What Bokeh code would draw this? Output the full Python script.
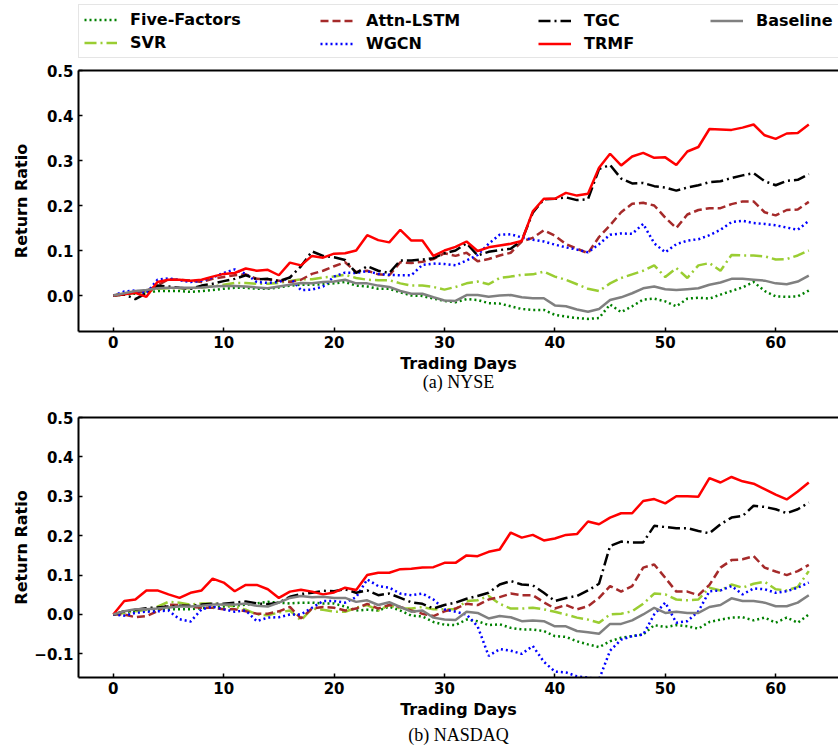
from bokeh.plotting import figure
from bokeh.models import Legend, LegendItem, LinearAxis, FixedTicker, Title, Range1d
from bokeh.layouts import column
from bokeh.embed import file_html
from bokeh.resources import INLINE

days = list(range(64))
x_ticks = [0, 10, 20, 30, 40, 50, 60]
names = ["Five-Factors", "SVR", "Attn-LSTM", "WGCN", "TGC", "TRMF", "Baseline"]

nyse_five = [0, 0.002, 0.004, 0.006, 0.01, 0.01, 0.01, 0.008, 0.01, 0.012,
             0.015, 0.017, 0.017, 0.015, 0.015, 0.018, 0.022, 0.024, 0.024, 0.025,
             0.027, 0.03, 0.022, 0.02, 0.015, 0.015, 0.007, 0.0, -0.001, -0.007,
             -0.012, -0.015, -0.008, -0.01, -0.017, -0.018, -0.024, -0.03, -0.032, -0.032,
             -0.043, -0.047, -0.05, -0.052, -0.05, -0.02, -0.037, -0.024, -0.009, -0.007,
             -0.013, -0.024, -0.007, -0.005, -0.007, 0.002, 0.01, 0.018, 0.03, 0.01,
             -0.002, -0.003, -0.002, 0.011]
nyse_svr = [0, 0.004, 0.006, 0.008, 0.015, 0.016, 0.016, 0.016, 0.018, 0.02,
            0.024, 0.028, 0.028, 0.026, 0.026, 0.028, 0.032, 0.036, 0.036, 0.04,
            0.042, 0.046, 0.039, 0.035, 0.034, 0.034, 0.027, 0.022, 0.022, 0.019,
            0.013, 0.019, 0.027, 0.031, 0.025, 0.039, 0.042, 0.046, 0.047, 0.053,
            0.042, 0.035, 0.025, 0.015, 0.01, 0.027, 0.039, 0.047, 0.055, 0.067,
            0.041, 0.061, 0.039, 0.067, 0.072, 0.055, 0.09, 0.089, 0.089, 0.087,
            0.08, 0.081, 0.089, 0.1]
nyse_attn = [0, 0.004, 0.005, 0.011, 0.022, 0.036, 0.035, 0.033, 0.03, 0.037,
             0.041, 0.045, 0.047, 0.037, 0.036, 0.033, 0.03, 0.035, 0.048, 0.055,
             0.065, 0.074, 0.052, 0.055, 0.047, 0.045, 0.074, 0.072, 0.075, 0.081,
             0.094, 0.088, 0.095, 0.076, 0.081, 0.089, 0.095, 0.12, 0.128, 0.145,
             0.133, 0.114, 0.104, 0.094, 0.13, 0.156, 0.185, 0.204, 0.206, 0.2,
             0.173, 0.15, 0.18, 0.19, 0.194, 0.194, 0.203, 0.209, 0.209, 0.185,
             0.178, 0.19, 0.191, 0.208]
nyse_wgcn = [0, 0.009, 0.011, 0.005, 0.035, 0.038, 0.034, 0.03, 0.033, 0.04,
             0.05, 0.058, 0.048, 0.03, 0.028, 0.03, 0.04, 0.012, 0.013, 0.02,
             0.042, 0.051, 0.05, 0.054, 0.048, 0.046, 0.045, 0.045, 0.068, 0.071,
             0.07, 0.067, 0.078, 0.09, 0.115, 0.135, 0.136, 0.129, 0.124, 0.12,
             0.113, 0.107, 0.102, 0.096, 0.114, 0.135, 0.138, 0.137, 0.159, 0.116,
             0.096, 0.114, 0.122, 0.125, 0.134, 0.146, 0.163, 0.166, 0.161, 0.159,
             0.156, 0.151, 0.146, 0.166]
nyse_tgc = [0, 0.002, -0.008, 0.005, 0.022, 0.02, 0.017, 0.015, 0.022, 0.026,
            0.032, 0.037, 0.045, 0.036, 0.037, 0.032, 0.04, 0.065, 0.098, 0.088,
            0.085, 0.079, 0.05, 0.065, 0.055, 0.05, 0.078, 0.078, 0.08, 0.083,
            0.094, 0.1, 0.116, 0.089, 0.097, 0.101, 0.104, 0.122, 0.184, 0.214,
            0.215, 0.218, 0.212, 0.214, 0.281, 0.29, 0.26, 0.249, 0.25, 0.243,
            0.24, 0.233, 0.24, 0.245, 0.252, 0.254, 0.261, 0.267, 0.272, 0.254,
            0.245, 0.255, 0.257, 0.27]
nyse_trmf = [0, 0.003, 0.006, -0.003, 0.03, 0.035, 0.035, 0.033, 0.035, 0.042,
             0.048, 0.05, 0.06, 0.055, 0.057, 0.045, 0.073, 0.067, 0.088, 0.084,
             0.093, 0.094, 0.1, 0.134, 0.123, 0.118, 0.146, 0.122, 0.122, 0.088,
             0.1, 0.108, 0.12, 0.099, 0.107, 0.111, 0.115, 0.121, 0.187, 0.215,
             0.215, 0.228, 0.222, 0.226, 0.284, 0.315, 0.289, 0.309, 0.317, 0.306,
             0.307, 0.29, 0.32, 0.33, 0.37, 0.369, 0.368, 0.373, 0.38, 0.356,
             0.348, 0.36, 0.361, 0.38]
nyse_base = [0, 0.005, 0.01, 0.012, 0.016, 0.017, 0.017, 0.017, 0.018, 0.02,
             0.021, 0.021, 0.02, 0.018, 0.016, 0.02, 0.024, 0.028, 0.027, 0.03,
             0.031, 0.035, 0.027, 0.027, 0.022, 0.019, 0.01, 0.004, 0.004, -0.004,
             -0.011, -0.012, 0.001, 0.001, -0.003, 0.0, 0.001, -0.004, -0.006, -0.006,
             -0.022, -0.024, -0.031, -0.036, -0.03, -0.01, -0.004, 0.005, 0.016, 0.02,
             0.014, 0.012, 0.014, 0.016, 0.024, 0.029, 0.037, 0.037, 0.035, 0.033,
             0.027, 0.025, 0.031, 0.044]

nasdaq_five = [0, 0.004, 0.008, 0.01, 0.012, 0.013, 0.013, 0.013, 0.016, 0.018,
               0.02, 0.022, 0.025, 0.028, 0.032, 0.03, 0.028, 0.03, 0.03, 0.028,
               0.028, 0.02, 0.01, 0.012, 0.01, 0.02, 0.01, -0.003, -0.005, -0.019,
               -0.026, -0.027, -0.013, -0.017, -0.027, -0.025, -0.034, -0.038, -0.038, -0.042,
               -0.055, -0.057, -0.068, -0.076, -0.083, -0.068, -0.059, -0.055, -0.051, -0.027,
               -0.032, -0.027, -0.03, -0.036, -0.019, -0.013, -0.008, -0.007, -0.015, -0.008,
               -0.021, -0.008, -0.021, 0.0]
nasdaq_svr = [0, 0.004, 0.008, 0.012, 0.02, 0.032, 0.03, 0.025, 0.028, 0.028,
              0.025, 0.02, 0.012, 0.0, -0.002, 0.005, 0.01, -0.015, 0.015, 0.012,
              0.007, 0.007, 0.017, 0.024, 0.01, 0.024, 0.015, 0.015, 0.019, 0.013,
              0.013, 0.013, 0.034, 0.036, 0.047, 0.027, 0.015, 0.015, 0.017, 0.013,
              0.007, 0.0, -0.008, -0.013, -0.021, 0.0, 0.002, 0.008, 0.027, 0.053,
              0.051, 0.038, 0.036, 0.038, 0.068, 0.061, 0.076, 0.068, 0.078, 0.083,
              0.064, 0.061, 0.07, 0.11]
nasdaq_attn = [0, 0, -0.007, -0.004, 0.008, 0.025, 0.024, 0.02, 0.017, 0.017,
               0.013, 0.013, 0.008, 0.002, 0.002, 0.008, 0.019, -0.01, 0.015, 0.019,
               0.017, 0.01, 0.015, 0.027, 0.015, 0.024, 0.019, 0.01, 0.002, -0.004,
               0.008, 0.015, 0.027, 0.024, 0.038, 0.044, 0.053, 0.049, 0.049, 0.031,
               0.015, 0.024, 0.013, 0.021, 0.042, 0.072, 0.058, 0.072, 0.119, 0.127,
               0.093, 0.058, 0.058, 0.049, 0.075, 0.119, 0.138, 0.14, 0.148, 0.119,
               0.109, 0.1, 0.11, 0.126]
nasdaq_wgcn = [0, -0.003, 0.004, 0.007, 0.008, 0.01, -0.012, -0.018, 0.013, 0.02,
               0.013, 0.007, 0.01, -0.017, -0.008, -0.007, 0.0, 0.0, 0.017, 0.034,
               0.034, 0.03, 0.044, 0.089, 0.072, 0.068, 0.053, 0.049, 0.053, 0.038,
               0.013, 0.007, 0.0, -0.03, -0.105, -0.088, -0.092, -0.1, -0.08, -0.12,
               -0.145, -0.147, -0.157, -0.16, -0.165, -0.092, -0.064, -0.055, -0.051, 0.0,
               0.03, -0.021, -0.017, 0.008, 0.059, 0.061, 0.072, 0.051, 0.066, 0.064,
               0.055, 0.059, 0.068, 0.081]
nasdaq_tgc = [0, 0.008, 0.012, 0.016, 0.018, 0.02, 0.022, 0.022, 0.025, 0.027,
              0.027, 0.03, 0.033, 0.028, 0.026, 0.03, 0.045, 0.052, 0.055, 0.06,
              0.059, 0.064, 0.055, 0.061, 0.049, 0.053, 0.042, 0.031, 0.027, 0.015,
              0.024, 0.03, 0.04, 0.047, 0.055, 0.076, 0.085, 0.076, 0.074, 0.055,
              0.034, 0.042, 0.047, 0.061, 0.078, 0.174, 0.185, 0.183, 0.183, 0.225,
              0.222, 0.219, 0.219, 0.212, 0.206, 0.229, 0.246, 0.25, 0.276, 0.273,
              0.267, 0.257, 0.267, 0.284]
nasdaq_trmf = [0, 0.034, 0.038, 0.061, 0.061, 0.051, 0.042, 0.055, 0.061, 0.091,
               0.081, 0.059, 0.075, 0.075, 0.064, 0.042, 0.058, 0.063, 0.058, 0.051,
               0.056, 0.068, 0.062, 0.1, 0.106, 0.106, 0.115, 0.116, 0.119, 0.12,
               0.131, 0.131, 0.15, 0.148, 0.159, 0.165, 0.208, 0.195, 0.202, 0.188,
               0.193, 0.202, 0.204, 0.236, 0.229, 0.246, 0.257, 0.257, 0.288, 0.293,
               0.282, 0.3, 0.3, 0.299, 0.346, 0.335, 0.349, 0.338, 0.332, 0.318,
               0.304, 0.292, 0.312, 0.335]
nasdaq_base = [0, 0.008, 0.013, 0.013, 0.015, 0.018, 0.02, 0.02, 0.022, 0.025,
               0.025, 0.025, 0.028, 0.022, 0.02, 0.03, 0.042, 0.047, 0.044, 0.045,
               0.042, 0.042, 0.032, 0.036, 0.024, 0.031, 0.019, 0.007, 0.01, -0.008,
               -0.013, -0.014, 0.007, 0.004, -0.01, -0.004, -0.007, -0.017, -0.015, -0.017,
               -0.03, -0.03, -0.042, -0.045, -0.049, -0.024, -0.024, -0.015, 0.0, 0.017,
               0.004, 0.007, 0.004, 0.004, 0.019, 0.024, 0.041, 0.034, 0.034, 0.03,
               0.021, 0.021, 0.03, 0.049]

nyse_series = [nyse_five, nyse_svr, nyse_attn, nyse_wgcn, nyse_tgc, nyse_trmf, nyse_base]
nasdaq_series = [nasdaq_five, nasdaq_svr, nasdaq_attn, nasdaq_wgcn, nasdaq_tgc, nasdaq_trmf, nasdaq_base]

nyse_yticks = [0.0, 0.1, 0.2, 0.3, 0.4, 0.5]
nasdaq_yticks = [-0.1, 0.0, 0.1, 0.2, 0.3, 0.4, 0.5]

colors = ["#008000", "#9ACD32", "#A52A2A", "#0000FF", "#000000", "#FF0000", "#808080"]
dashes = ["2 3", "12 4 2 4", "8 4", "2 3", "12 4 2 4", "solid", "solid"]

FONT = "DejaVu Sans"
X_START = -3.15
PX_PER_DAY = 11.04
FRAME_W = 760
LEG_H = 60


def tick_label(t):
    s = "%.1f" % t
    return s.replace("-", "\u2212")


def make_fig(series, y_lo, y_hi, yticks, caption, top, bottom, fh, ylabel_standoff, title_standoff):
    p = figure(frame_width=FRAME_W, frame_height=fh,
               min_border_left=78, min_border_right=0,
               min_border_top=top, min_border_bottom=bottom,
               x_range=Range1d(X_START, X_START + FRAME_W / PX_PER_DAY),
               y_range=Range1d(y_lo, y_hi),
               toolbar_location=None, output_backend="svg")
    p.outline_line_color = None
    p.grid.visible = False
    p.background_fill_color = "white"
    p.border_fill_color = "white"

    renderers = []
    for vals, c, d in zip(series, colors, dashes):
        r = p.line(days, vals, line_color=c, line_width=2.5, line_dash=d)
        renderers.append(r)

    for ax in (p.xaxis[0], p.yaxis[0]):
        ax.axis_line_width = 2
        ax.major_tick_in = 4
        ax.major_tick_out = 0
        ax.major_tick_line_width = 1.5
        ax.minor_tick_line_color = None
        ax.major_label_text_font = FONT
        ax.major_label_text_font_style = "bold"
        ax.major_label_text_font_size = "15px"
        ax.major_label_text_color = "black"
        ax.axis_label_text_font = FONT
        ax.axis_label_text_font_style = "bold"
        ax.axis_label_text_font_size = "16px"
        ax.axis_label_text_color = "black"

    p.xaxis[0].ticker = FixedTicker(ticks=x_ticks)
    p.xaxis[0].axis_label = "Trading Days"
    p.xaxis[0].major_label_standoff = 4
    p.xaxis[0].axis_label_standoff = 3

    p.yaxis[0].ticker = FixedTicker(ticks=yticks)
    p.yaxis[0].major_label_overrides = {t: tick_label(t) for t in yticks}
    p.yaxis[0].axis_label = "Return Ratio"
    p.yaxis[0].major_label_standoff = 5
    p.yaxis[0].axis_label_standoff = ylabel_standoff

    top_axis = LinearAxis(axis_line_width=2, ticker=FixedTicker(ticks=[]),
                          major_tick_line_color=None, minor_tick_line_color=None,
                          major_label_text_font_size="0px")
    p.add_layout(top_axis, "above")

    cap = Title(text=caption, align="center", text_font="Liberation Serif",
                text_font_style="normal", text_font_size="18px", text_color="black",
                standoff=title_standoff)
    p.add_layout(cap, "below")
    return p, renderers


p1, r1 = make_fig(nyse_series, -0.08, 0.5, nyse_yticks, "(a) NYSE", 70 - LEG_H, 69, 261, 13, -11)
p2, r2 = make_fig(nasdaq_series, -0.16, 0.5, nasdaq_yticks, "(b) NASDAQ", 17, 70, 260, 0, 3)

# legend strip above the NYSE panel; its frame lines up with the panels below,
# and its y range sits far above the data so only the legend itself shows
pl = figure(frame_width=FRAME_W, frame_height=LEG_H,
            min_border_left=78, min_border_right=0, min_border_top=0, min_border_bottom=0,
            x_axis_location=None, y_axis_location=None,
            toolbar_location=None, output_backend="svg",
            x_range=Range1d(X_START, X_START + FRAME_W / PX_PER_DAY), y_range=Range1d(10, 11))
pl.outline_line_color = None
pl.grid.visible = False
pl.background_fill_color = "white"
pl.border_fill_color = "white"
leg_renderers = [pl.line(days, vals, line_color=c, line_width=2.5, line_dash=d)
                 for vals, c, d in zip(nyse_series, colors, dashes)]

leg_common = dict(label_text_font=FONT, label_text_font_style="bold", label_text_font_size="16px",
                  label_text_color="black", glyph_width=33, glyph_height=19, label_height=19,
                  label_standoff=13, spacing=4, padding=5, margin=0, orientation="vertical")
col_groups = [[0, 1], [2, 3], [4, 5], [6]]
col_x = [0, 237, 455, 627]
col_y = [2, 2, 2, 25]
for k, (grp, lx, ly) in enumerate(zip(col_groups, col_x, col_y)):
    items = [LegendItem(label=names[i], renderers=[leg_renderers[i]]) for i in grp]
    if k == 0:
        leg = Legend(items=items, location=(lx, ly), border_line_color="#cccccc",
                     border_line_width=1, background_fill_color="white",
                     background_fill_alpha=1.0, label_width=720, **leg_common)
    else:
        leg = Legend(items=items, location=(lx, ly), border_line_color="white",
                     border_line_alpha=0.0, background_fill_alpha=0.0, **leg_common)
    pl.add_layout(leg)

layout = column(pl, p1, p2, spacing=0)
open("out.html", "w").write(file_html(layout, INLINE))
